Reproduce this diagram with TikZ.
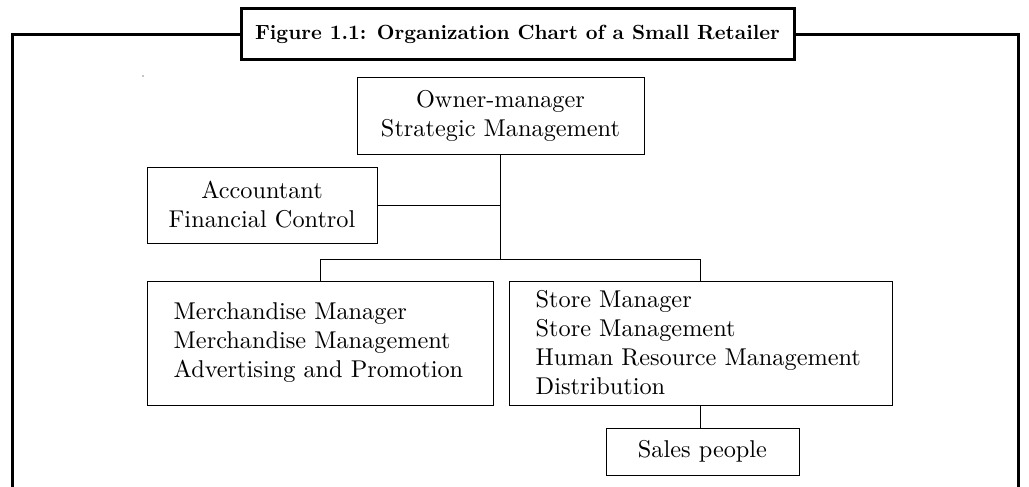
\documentclass[tikz,border=0pt]{standalone}
\usepackage{fontspec}
\setmainfont{lmroman10-regular.otf}[BoldFont=lmroman10-bold.otf]
\newfontfamily\tfont{lmroman10-bold.otf}
\begin{document}
\begin{tikzpicture}[x=1pt,y=-1pt,
  box/.style={draw, line width=1pt, inner sep=0pt, font=\fontsize{24.3}{29}\selectfont},
  cbox/.style={box, align=center},
  ltext/.style={inner sep=0pt, align=left, anchor=west, font=\fontsize{24.3}{29}\selectfont},
  link/.style={line width=1pt},
  frame/.style={line width=3pt}]
\useasboundingbox (0,0) rectangle (1029,487);
% outer frame
\coordinate (fl) at (12,490);
\coordinate (fr) at (1018,490);
\draw[frame] (fl) -- (12,35) -- (1018,35) -- (fr);
\node[draw, frame, fill=white, minimum width=553pt, minimum height=51pt, inner sep=0pt,
  font=\tfont\fontsize{20.5}{24}\selectfont] (title) at (517.5,34.5)
  {Figure 1.1: Organization Chart of a Small Retailer};
\fill (143,76) circle (0.6pt);
% boxes
\node[cbox, minimum width=287pt, minimum height=76pt] (own) at (500.5,116)
  {Owner-manager\\Strategic Management};
\node[cbox, minimum width=230pt, minimum height=76pt] (acc) at (262,205)
  {Accountant\\Financial Control};
\node[box, minimum width=346pt, minimum height=124pt] (mer) at (320,343) {};
\node[ltext] (mert) at ([xshift=27pt]mer.west)
  {Merchandise Manager\\Merchandise Management\\Advertising and Promotion};
\node[box, minimum width=383pt, minimum height=124pt] (sto) at (700.5,343) {};
\node[ltext] (stot) at ([xshift=27pt]sto.west)
  {Store Manager\\Store Management\\Human Resource Management\\Distribution};
\node[cbox, minimum width=193pt, minimum height=47pt] (sal) at (702.5,451.5)
  {Sales people};
% connectors
\coordinate (j) at (500.5,259);
\draw[link] (own.south) -- (j);
\draw[link] (acc.east) -- (own.south |- acc.east);
\draw[link] (mer.north) -- (mer.north |- j) -- (sto.north |- j) -- (sto.north);
\draw[link] (sto.south) -- (sto.south |- sal.north);
\end{tikzpicture}
\end{document}
